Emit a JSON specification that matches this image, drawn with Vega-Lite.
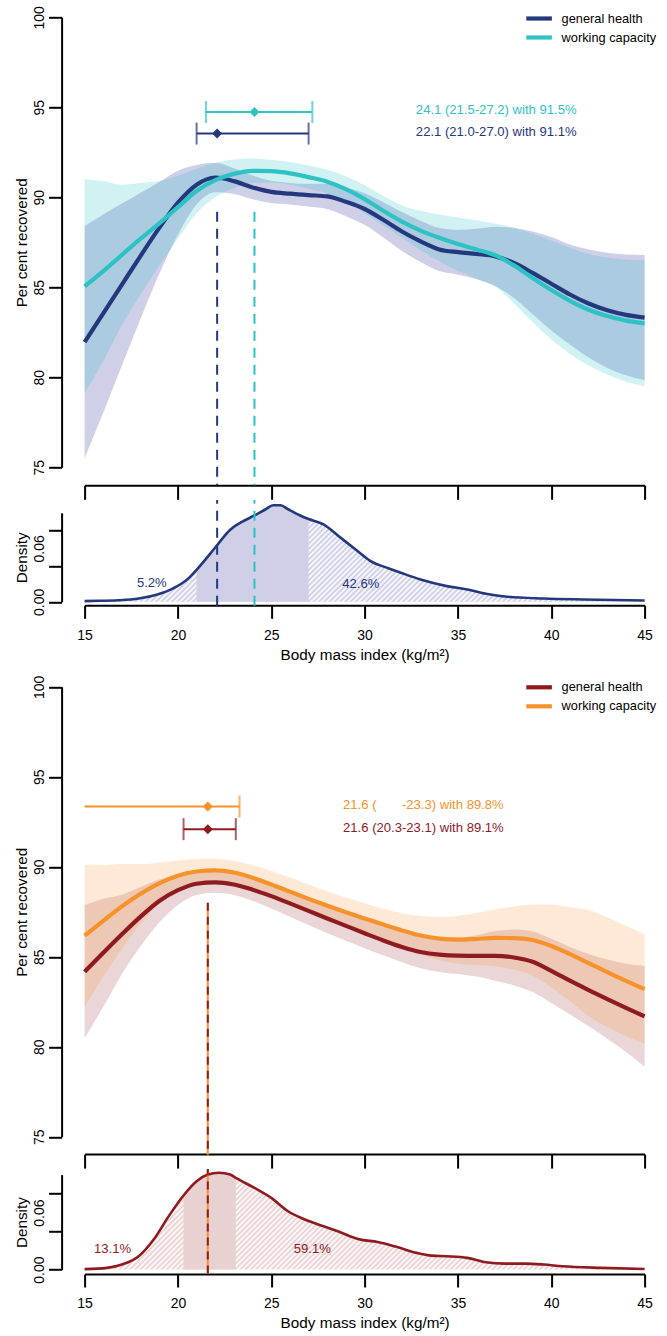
{
"$schema": "https://vega.github.io/schema/vega-lite/v6.json",
"padding": {"left": 14.6, "top": 5.3, "right": 0, "bottom": 0},
"bounds": "flush",
"spacing": 0,
"config": {
  "font": "Liberation Sans",
  "view": {"stroke": null},
  "axis": {"grid": false, "domainColor": "#000", "tickColor": "#000", "domainWidth": 2, "tickWidth": 2, "labelColor": "#000", "titleColor": "#000", "labelFontSize": 14, "titleFontSize": 15.3, "titleFontWeight": "normal", "labelFlush": false, "labelOverlap": false, "domainCap": "butt", "tickCap": "butt", "labelFont": "Liberation Sans", "titleFont": "Liberation Sans"},
  "text": {"font": "Liberation Sans"}
},
"resolve": {"scale": {"color": "independent", "stroke": "independent", "x": "independent", "y": "independent"}, "legend": {"color": "independent", "stroke": "independent"}},
"datasets": {
  "curves_top": [
    {"bmi":15,"series":"general health","est":81.95,"lo":75.50,"hi":88.40},
    {"bmi":16,"series":"general health","est":83.55,"lo":78.05,"hi":89.05},
    {"bmi":17,"series":"general health","est":85.15,"lo":80.65,"hi":89.65},
    {"bmi":18,"series":"general health","est":86.75,"lo":83.25,"hi":90.25},
    {"bmi":19,"series":"general health","est":88.30,"lo":85.75,"hi":90.85},
    {"bmi":20,"series":"general health","est":89.70,"lo":87.92,"hi":91.48},
    {"bmi":21,"series":"general health","est":90.70,"lo":89.60,"hi":91.80},
    {"bmi":22,"series":"general health","est":91.10,"lo":90.28,"hi":91.92},
    {"bmi":23,"series":"general health","est":90.90,"lo":90.18,"hi":91.62},
    {"bmi":24,"series":"general health","est":90.55,"lo":89.89,"hi":91.21},
    {"bmi":25,"series":"general health","est":90.30,"lo":89.68,"hi":90.92},
    {"bmi":26,"series":"general health","est":90.20,"lo":89.60,"hi":90.80},
    {"bmi":27,"series":"general health","est":90.12,"lo":89.49,"hi":90.75},
    {"bmi":28,"series":"general health","est":90.05,"lo":89.35,"hi":90.75},
    {"bmi":29,"series":"general health","est":89.75,"lo":88.95,"hi":90.55},
    {"bmi":30,"series":"general health","est":89.35,"lo":88.47,"hi":90.23},
    {"bmi":31,"series":"general health","est":88.75,"lo":87.77,"hi":89.73},
    {"bmi":32,"series":"general health","est":88.10,"lo":87.02,"hi":89.18},
    {"bmi":33,"series":"general health","est":87.55,"lo":86.40,"hi":88.70},
    {"bmi":34,"series":"general health","est":87.10,"lo":85.90,"hi":88.30},
    {"bmi":35,"series":"general health","est":86.95,"lo":85.70,"hi":88.20},
    {"bmi":36,"series":"general health","est":86.85,"lo":85.45,"hi":88.25},
    {"bmi":37,"series":"general health","est":86.72,"lo":85.07,"hi":88.37},
    {"bmi":38,"series":"general health","est":86.35,"lo":84.40,"hi":88.30},
    {"bmi":39,"series":"general health","est":85.80,"lo":83.50,"hi":88.10},
    {"bmi":40,"series":"general health","est":85.20,"lo":82.60,"hi":87.80},
    {"bmi":41,"series":"general health","est":84.60,"lo":81.82,"hi":87.38},
    {"bmi":42,"series":"general health","est":84.10,"lo":81.10,"hi":87.10},
    {"bmi":43,"series":"general health","est":83.72,"lo":80.52,"hi":86.92},
    {"bmi":44,"series":"general health","est":83.47,"lo":80.12,"hi":86.82},
    {"bmi":45,"series":"general health","est":83.32,"lo":79.84,"hi":86.80},
    {"bmi":15,"series":"working capacity","est":85.05,"lo":79.10,"hi":91.00},
    {"bmi":16,"series":"working capacity","est":85.90,"lo":80.90,"hi":90.90},
    {"bmi":17,"series":"working capacity","est":86.80,"lo":82.90,"hi":90.70},
    {"bmi":18,"series":"working capacity","est":87.70,"lo":84.60,"hi":90.80},
    {"bmi":19,"series":"working capacity","est":88.55,"lo":86.20,"hi":90.90},
    {"bmi":20,"series":"working capacity","est":89.45,"lo":87.70,"hi":91.20},
    {"bmi":21,"series":"working capacity","est":90.35,"lo":89.11,"hi":91.59},
    {"bmi":22,"series":"working capacity","est":90.95,"lo":90.00,"hi":91.90},
    {"bmi":23,"series":"working capacity","est":91.30,"lo":90.50,"hi":92.10},
    {"bmi":24,"series":"working capacity","est":91.47,"lo":90.79,"hi":92.15},
    {"bmi":25,"series":"working capacity","est":91.45,"lo":90.82,"hi":92.08},
    {"bmi":26,"series":"working capacity","est":91.33,"lo":90.70,"hi":91.96},
    {"bmi":27,"series":"working capacity","est":91.12,"lo":90.48,"hi":91.76},
    {"bmi":28,"series":"working capacity","est":90.87,"lo":90.21,"hi":91.53},
    {"bmi":29,"series":"working capacity","est":90.45,"lo":89.73,"hi":91.17},
    {"bmi":30,"series":"working capacity","est":89.90,"lo":89.12,"hi":90.68},
    {"bmi":31,"series":"working capacity","est":89.25,"lo":88.43,"hi":90.07},
    {"bmi":32,"series":"working capacity","est":88.65,"lo":87.75,"hi":89.55},
    {"bmi":33,"series":"working capacity","est":88.15,"lo":87.05,"hi":89.25},
    {"bmi":34,"series":"working capacity","est":87.75,"lo":86.45,"hi":89.05},
    {"bmi":35,"series":"working capacity","est":87.40,"lo":85.92,"hi":88.88},
    {"bmi":36,"series":"working capacity","est":87.10,"lo":85.48,"hi":88.72},
    {"bmi":37,"series":"working capacity","est":86.78,"lo":85.03,"hi":88.53},
    {"bmi":38,"series":"working capacity","est":86.22,"lo":84.12,"hi":88.32},
    {"bmi":39,"series":"working capacity","est":85.52,"lo":83.07,"hi":87.97},
    {"bmi":40,"series":"working capacity","est":84.85,"lo":82.10,"hi":87.60},
    {"bmi":41,"series":"working capacity","est":84.25,"lo":81.30,"hi":87.20},
    {"bmi":42,"series":"working capacity","est":83.75,"lo":80.65,"hi":86.85},
    {"bmi":43,"series":"working capacity","est":83.40,"lo":80.15,"hi":86.65},
    {"bmi":44,"series":"working capacity","est":83.15,"lo":79.75,"hi":86.55},
    {"bmi":45,"series":"working capacity","est":83.00,"lo":79.50,"hi":86.50}
  ],
  "curves_bottom": [
    {"bmi":15,"series":"general health","est":84.17,"lo":80.47,"hi":87.87},
    {"bmi":16,"series":"general health","est":85.22,"lo":82.22,"hi":88.22},
    {"bmi":17,"series":"general health","est":86.25,"lo":84.05,"hi":88.45},
    {"bmi":18,"series":"general health","est":87.23,"lo":85.58,"hi":88.88},
    {"bmi":19,"series":"general health","est":88.10,"lo":86.90,"hi":89.30},
    {"bmi":20,"series":"general health","est":88.70,"lo":87.88,"hi":89.52},
    {"bmi":21,"series":"general health","est":89.06,"lo":88.43,"hi":89.69},
    {"bmi":22,"series":"general health","est":89.14,"lo":88.56,"hi":89.72},
    {"bmi":23,"series":"general health","est":89.02,"lo":88.44,"hi":89.60},
    {"bmi":24,"series":"general health","est":88.73,"lo":88.11,"hi":89.35},
    {"bmi":25,"series":"general health","est":88.37,"lo":87.69,"hi":89.05},
    {"bmi":26,"series":"general health","est":87.97,"lo":87.23,"hi":88.71},
    {"bmi":27,"series":"general health","est":87.55,"lo":86.77,"hi":88.33},
    {"bmi":28,"series":"general health","est":87.13,"lo":86.31,"hi":87.95},
    {"bmi":29,"series":"general health","est":86.72,"lo":85.89,"hi":87.55},
    {"bmi":30,"series":"general health","est":86.31,"lo":85.48,"hi":87.14},
    {"bmi":31,"series":"general health","est":85.91,"lo":85.08,"hi":86.74},
    {"bmi":32,"series":"general health","est":85.55,"lo":84.70,"hi":86.40},
    {"bmi":33,"series":"general health","est":85.27,"lo":84.37,"hi":86.17},
    {"bmi":34,"series":"general health","est":85.12,"lo":84.16,"hi":86.08},
    {"bmi":35,"series":"general health","est":85.06,"lo":84.04,"hi":86.08},
    {"bmi":36,"series":"general health","est":85.05,"lo":83.90,"hi":86.20},
    {"bmi":37,"series":"general health","est":85.05,"lo":83.67,"hi":86.43},
    {"bmi":38,"series":"general health","est":84.96,"lo":83.41,"hi":86.51},
    {"bmi":39,"series":"general health","est":84.72,"lo":83.04,"hi":86.40},
    {"bmi":40,"series":"general health","est":84.22,"lo":82.44,"hi":86.00},
    {"bmi":41,"series":"general health","est":83.67,"lo":81.79,"hi":85.55},
    {"bmi":42,"series":"general health","est":83.15,"lo":81.15,"hi":85.15},
    {"bmi":43,"series":"general health","est":82.65,"lo":80.45,"hi":84.85},
    {"bmi":44,"series":"general health","est":82.16,"lo":79.71,"hi":84.61},
    {"bmi":45,"series":"general health","est":81.69,"lo":78.89,"hi":84.49},
    {"bmi":15,"series":"working capacity","est":86.17,"lo":82.21,"hi":90.13},
    {"bmi":16,"series":"working capacity","est":87.00,"lo":83.90,"hi":90.10},
    {"bmi":17,"series":"working capacity","est":87.80,"lo":85.45,"hi":90.15},
    {"bmi":18,"series":"working capacity","est":88.50,"lo":86.85,"hi":90.15},
    {"bmi":19,"series":"working capacity","est":89.08,"lo":87.93,"hi":90.23},
    {"bmi":20,"series":"working capacity","est":89.50,"lo":88.65,"hi":90.35},
    {"bmi":21,"series":"working capacity","est":89.74,"lo":89.04,"hi":90.44},
    {"bmi":22,"series":"working capacity","est":89.80,"lo":89.15,"hi":90.45},
    {"bmi":23,"series":"working capacity","est":89.68,"lo":89.04,"hi":90.32},
    {"bmi":24,"series":"working capacity","est":89.39,"lo":88.69,"hi":90.09},
    {"bmi":25,"series":"working capacity","est":89.02,"lo":88.27,"hi":89.77},
    {"bmi":26,"series":"working capacity","est":88.62,"lo":87.84,"hi":89.40},
    {"bmi":27,"series":"working capacity","est":88.22,"lo":87.42,"hi":89.02},
    {"bmi":28,"series":"working capacity","est":87.84,"lo":87.04,"hi":88.64},
    {"bmi":29,"series":"working capacity","est":87.47,"lo":86.65,"hi":88.29},
    {"bmi":30,"series":"working capacity","est":87.13,"lo":86.28,"hi":87.98},
    {"bmi":31,"series":"working capacity","est":86.79,"lo":85.91,"hi":87.67},
    {"bmi":32,"series":"working capacity","est":86.46,"lo":85.51,"hi":87.41},
    {"bmi":33,"series":"working capacity","est":86.18,"lo":85.10,"hi":87.26},
    {"bmi":34,"series":"working capacity","est":86.01,"lo":84.81,"hi":87.21},
    {"bmi":35,"series":"working capacity","est":85.95,"lo":84.62,"hi":87.28},
    {"bmi":36,"series":"working capacity","est":85.99,"lo":84.54,"hi":87.44},
    {"bmi":37,"series":"working capacity","est":86.05,"lo":84.47,"hi":87.63},
    {"bmi":38,"series":"working capacity","est":86.04,"lo":84.29,"hi":87.79},
    {"bmi":39,"series":"working capacity","est":85.93,"lo":83.96,"hi":87.90},
    {"bmi":40,"series":"working capacity","est":85.60,"lo":83.30,"hi":87.90},
    {"bmi":41,"series":"working capacity","est":85.15,"lo":82.55,"hi":87.75},
    {"bmi":42,"series":"working capacity","est":84.65,"lo":81.70,"hi":87.60},
    {"bmi":43,"series":"working capacity","est":84.15,"lo":81.10,"hi":87.20},
    {"bmi":44,"series":"working capacity","est":83.66,"lo":80.60,"hi":86.72},
    {"bmi":45,"series":"working capacity","est":83.20,"lo":80.15,"hi":86.25}
  ],
  "ci_top": [
    {"series":"general health","est":22.1,"lo":21.0,"hi":27.0,"cap_lo":21.0,"ypos":93.54,"label":"22.1 (21.0-27.0) with 91.1%"},
    {"series":"working capacity","est":24.1,"lo":21.5,"hi":27.2,"cap_lo":21.5,"ypos":94.74,"label":"24.1 (21.5-27.2) with 91.5%"}
  ],
  "ci_bottom": [
    {"series":"general health","est":21.6,"lo":20.3,"hi":23.1,"cap_lo":20.3,"ypos":92.09,"label":"21.6 (20.3-23.1) with 89.1%"},
    {"series":"working capacity","est":21.6,"lo":15.0,"hi":23.3,"cap_lo":null,"ypos":93.35,"label":"21.6 (\u00a0\u00a0\u00a0\u00a0\u00a0\u00a0\u00a0-23.3) with 89.8%"}
  ],
  "dens_top": [
    {"bmi":15,"d":0.0008},{"bmi":15.8,"d":0.0011},{"bmi":16.8,"d":0.0017},{"bmi":17.9,"d":0.0037},{"bmi":18.9,"d":0.0083},{"bmi":19.7,"d":0.0146},{"bmi":20.55,"d":0.026},{"bmi":21,"d":0.036},{"bmi":22,"d":0.061},{"bmi":22.8,"d":0.081},{"bmi":23.45,"d":0.09},{"bmi":24.1,"d":0.097},{"bmi":24.7,"d":0.104},{"bmi":25.1,"d":0.1085},{"bmi":25.5,"d":0.1085},{"bmi":25.9,"d":0.104},{"bmi":26.55,"d":0.097},{"bmi":27,"d":0.093},{"bmi":27.8,"d":0.087},{"bmi":28.6,"d":0.074},{"bmi":29.5,"d":0.059},{"bmi":30.3,"d":0.046},{"bmi":31.3,"d":0.0375},{"bmi":31.9,"d":0.033},{"bmi":33,"d":0.025},{"bmi":34.4,"d":0.0176},{"bmi":35.5,"d":0.0139},{"bmi":36.5,"d":0.009},{"bmi":37.5,"d":0.006},{"bmi":39.6,"d":0.0037},{"bmi":41.7,"d":0.0026},{"bmi":45,"d":0.0015}
  ],
  "dens_bottom": [
    {"bmi":15,"d":0.0005},{"bmi":16.2,"d":0.0018},{"bmi":17,"d":0.0053},{"bmi":17.9,"d":0.014},{"bmi":18.7,"d":0.0316},{"bmi":19.5,"d":0.056},{"bmi":20.3,"d":0.078},{"bmi":21,"d":0.093},{"bmi":21.6,"d":0.1},{"bmi":22.2,"d":0.102},{"bmi":22.8,"d":0.1},{"bmi":23.1,"d":0.0965},{"bmi":24.1,"d":0.086},{"bmi":25,"d":0.0755},{"bmi":25.9,"d":0.0614},{"bmi":26.8,"d":0.0527},{"bmi":27.8,"d":0.0456},{"bmi":28.6,"d":0.04},{"bmi":29.7,"d":0.032},{"bmi":30.7,"d":0.029},{"bmi":31.7,"d":0.024},{"bmi":32.8,"d":0.0176},{"bmi":33.6,"d":0.0147},{"bmi":34.4,"d":0.014},{"bmi":35.5,"d":0.0123},{"bmi":36.5,"d":0.0077},{"bmi":37.5,"d":0.0063},{"bmi":38.6,"d":0.0063},{"bmi":39.6,"d":0.0053},{"bmi":40.6,"d":0.0035},{"bmi":42.7,"d":0.0018},{"bmi":45,"d":0.0007}
  ],
  "pct_top": [{"bmi":18.6,"d":0.0206,"label":"5.2%"},{"bmi":29.8,"d":0.020,"label":"42.6%"}],
  "pct_bottom": [{"bmi":16.5,"d":0.0217,"label":"13.1%"},{"bmi":27.2,"d":0.0217,"label":"59.1%"}]
},
"vconcat": [
  {
    "width": 560, "height": 450,
    "layer": [
      {"data": {"name": "curves_top"}, "transform": [{"filter": "datum.series == 'general health'"}],
       "mark": {"type": "area", "color": "#6a6ab8", "opacity": 0.32, "interpolate": "monotone"},
       "encoding": {
         "x": {"field": "bmi", "type": "quantitative", "title": null, "scale": {"domain": [15,45], "nice": false, "zero": false}, "axis": {"values": [15,20,25,30,35,40,45], "labels": false, "offset": 18, "tickSize": 14}},
         "y": {"field": "lo", "type": "quantitative", "title": "Per cent recovered", "scale": {"domain": [75,100], "nice": false, "zero": false}, "axis": {"values": [75,80,85,90,95,100], "offset": 23, "tickSize": 13, "labelAngle": 270, "labelAlign": "center", "labelBaseline": "bottom", "labelPadding": 2, "titlePadding": 3, "labelOverlap": false}},
         "y2": {"field": "hi"}}},
      {"data": {"name": "curves_top"}, "transform": [{"filter": "datum.series == 'working capacity'"}],
       "mark": {"type": "area", "color": "#2ec2c4", "opacity": 0.22, "interpolate": "monotone"},
       "encoding": {
         "x": {"field": "bmi", "type": "quantitative", "title": null},
         "y": {"field": "lo", "type": "quantitative", "title": "Per cent recovered"},
         "y2": {"field": "hi"}}},
      {"data": {"name": "curves_top"},
       "mark": {"type": "line", "strokeWidth": 4.2, "interpolate": "monotone"},
       "encoding": {
         "x": {"field": "bmi", "type": "quantitative", "title": null},
         "y": {"field": "est", "type": "quantitative", "title": "Per cent recovered"},
         "stroke": {"field": "series", "type": "nominal", "scale": {"domain": ["general health","working capacity"], "range": ["#25387e","#2ec2c4"]},
           "legend": {"orient": "none", "legendX": 444, "legendY": -9.3, "title": null, "symbolType": "M-1.6,0L1.6,0", "symbolSize": 256, "symbolStrokeWidth": 4.2, "labelFontSize": 12.8, "labelOffset": 12, "rowPadding": 0, "padding": 0, "labelColor": "#000", "labelFont": "Liberation Sans", "labelLimit": 300}}}},
      {"data": {"name": "ci_top"},
       "mark": {"type": "rule", "strokeWidth": 2, "strokeDash": [10,7]},
       "encoding": {
         "x": {"field": "est", "type": "quantitative", "title": null},
         "y": {"datum": 89.2, "type": "quantitative", "title": "Per cent recovered"},
         "y2": {"datum": 74},
         "color": {"field": "series", "type": "nominal", "scale": {"domain": ["general health","working capacity"], "range": ["#25387e","#2ec2c4"]}, "legend": null}}},
      {"data": {"name": "ci_top"},
       "mark": {"type": "rule", "strokeWidth": 2},
       "encoding": {
         "x": {"field": "lo", "type": "quantitative", "title": null},
         "x2": {"field": "hi"},
         "y": {"field": "ypos", "type": "quantitative", "title": "Per cent recovered"},
         "color": {"field": "series", "type": "nominal", "legend": null}}},
      {"data": {"name": "ci_top"},
       "mark": {"type": "tick", "orient": "vertical", "size": 22, "thickness": 2},
       "encoding": {
         "x": {"field": "cap_lo", "type": "quantitative", "title": null},
         "y": {"field": "ypos", "type": "quantitative", "title": "Per cent recovered"},
         "color": {"field": "series", "type": "nominal", "legend": null}}},
      {"data": {"name": "ci_top"},
       "mark": {"type": "tick", "orient": "vertical", "size": 22, "thickness": 2},
       "encoding": {
         "x": {"field": "hi", "type": "quantitative", "title": null},
         "y": {"field": "ypos", "type": "quantitative", "title": "Per cent recovered"},
         "color": {"field": "series", "type": "nominal", "legend": null}}},
      {"data": {"name": "ci_top"},
       "mark": {"type": "point", "shape": "diamond", "filled": true, "size": 100, "opacity": 1},
       "encoding": {
         "x": {"field": "est", "type": "quantitative", "title": null},
         "y": {"field": "ypos", "type": "quantitative", "title": "Per cent recovered"},
         "color": {"field": "series", "type": "nominal", "legend": null}}},
      {"data": {"name": "ci_top"},
       "mark": {"type": "text", "fontSize": 13.1, "align": "center", "baseline": "middle", "dy": -1.5},
       "encoding": {
         "x": {"datum": 37.05, "type": "quantitative", "title": null},
         "y": {"field": "ypos", "type": "quantitative", "title": "Per cent recovered"},
         "text": {"field": "label"},
         "color": {"field": "series", "type": "nominal", "legend": null}}}
    ]
  },
  {
    "width": 560, "height": 134.5,
    "resolve": {"scale": {"y": "independent"}, "axis": {"y": "independent"}},
    "layer": [
      {"layer": [
      {"data": {"name": "dens_top"},
       "mark": {"type": "area", "interpolate": "monotone", "opacity": 1, "fill": {"gradient": "linear", "x1": 0, "y1": 0, "x2": 1.1386, "y2": 0.1964, "stops": [
{"offset":0,"color":"#c9c9e5"},{"offset":0.004,"color":"#fff"},{"offset":0.008,"color":"#c9c9e5"},{"offset":0.012,"color":"#fff"},{"offset":0.016,"color":"#c9c9e5"},{"offset":0.02,"color":"#fff"},{"offset":0.024,"color":"#c9c9e5"},{"offset":0.028,"color":"#fff"},{"offset":0.032,"color":"#c9c9e5"},{"offset":0.036,"color":"#fff"},
{"offset":0.04,"color":"#c9c9e5"},{"offset":0.044,"color":"#fff"},{"offset":0.048,"color":"#c9c9e5"},{"offset":0.052,"color":"#fff"},{"offset":0.056,"color":"#c9c9e5"},{"offset":0.06,"color":"#fff"},{"offset":0.064,"color":"#c9c9e5"},{"offset":0.068,"color":"#fff"},{"offset":0.072,"color":"#c9c9e5"},{"offset":0.076,"color":"#fff"},
{"offset":0.08,"color":"#c9c9e5"},{"offset":0.084,"color":"#fff"},{"offset":0.088,"color":"#c9c9e5"},{"offset":0.092,"color":"#fff"},{"offset":0.096,"color":"#c9c9e5"},{"offset":0.1,"color":"#fff"},{"offset":0.104,"color":"#c9c9e5"},{"offset":0.108,"color":"#fff"},{"offset":0.112,"color":"#c9c9e5"},{"offset":0.116,"color":"#fff"},
{"offset":0.12,"color":"#c9c9e5"},{"offset":0.124,"color":"#fff"},{"offset":0.128,"color":"#c9c9e5"},{"offset":0.132,"color":"#fff"},{"offset":0.136,"color":"#c9c9e5"},{"offset":0.14,"color":"#fff"},{"offset":0.144,"color":"#c9c9e5"},{"offset":0.148,"color":"#fff"},{"offset":0.152,"color":"#c9c9e5"},{"offset":0.156,"color":"#fff"},
{"offset":0.16,"color":"#c9c9e5"},{"offset":0.164,"color":"#fff"},{"offset":0.168,"color":"#c9c9e5"},{"offset":0.172,"color":"#fff"},{"offset":0.176,"color":"#c9c9e5"},{"offset":0.18,"color":"#fff"},{"offset":0.184,"color":"#c9c9e5"},{"offset":0.188,"color":"#fff"},{"offset":0.192,"color":"#c9c9e5"},{"offset":0.196,"color":"#fff"},
{"offset":0.2,"color":"#c9c9e5"},{"offset":0.204,"color":"#fff"},{"offset":0.208,"color":"#c9c9e5"},{"offset":0.212,"color":"#fff"},{"offset":0.216,"color":"#c9c9e5"},{"offset":0.22,"color":"#fff"},{"offset":0.224,"color":"#c9c9e5"},{"offset":0.228,"color":"#fff"},{"offset":0.232,"color":"#c9c9e5"},{"offset":0.236,"color":"#fff"},
{"offset":0.24,"color":"#c9c9e5"},{"offset":0.244,"color":"#fff"},{"offset":0.248,"color":"#c9c9e5"},{"offset":0.252,"color":"#fff"},{"offset":0.256,"color":"#c9c9e5"},{"offset":0.26,"color":"#fff"},{"offset":0.264,"color":"#c9c9e5"},{"offset":0.268,"color":"#fff"},{"offset":0.272,"color":"#c9c9e5"},{"offset":0.276,"color":"#fff"},
{"offset":0.28,"color":"#c9c9e5"},{"offset":0.284,"color":"#fff"},{"offset":0.288,"color":"#c9c9e5"},{"offset":0.292,"color":"#fff"},{"offset":0.296,"color":"#c9c9e5"},{"offset":0.3,"color":"#fff"},{"offset":0.304,"color":"#c9c9e5"},{"offset":0.308,"color":"#fff"},{"offset":0.312,"color":"#c9c9e5"},{"offset":0.316,"color":"#fff"},
{"offset":0.32,"color":"#c9c9e5"},{"offset":0.324,"color":"#fff"},{"offset":0.328,"color":"#c9c9e5"},{"offset":0.332,"color":"#fff"},{"offset":0.336,"color":"#c9c9e5"},{"offset":0.34,"color":"#fff"},{"offset":0.344,"color":"#c9c9e5"},{"offset":0.348,"color":"#fff"},{"offset":0.352,"color":"#c9c9e5"},{"offset":0.356,"color":"#fff"},
{"offset":0.36,"color":"#c9c9e5"},{"offset":0.364,"color":"#fff"},{"offset":0.368,"color":"#c9c9e5"},{"offset":0.372,"color":"#fff"},{"offset":0.376,"color":"#c9c9e5"},{"offset":0.38,"color":"#fff"},{"offset":0.384,"color":"#c9c9e5"},{"offset":0.388,"color":"#fff"},{"offset":0.392,"color":"#c9c9e5"},{"offset":0.396,"color":"#fff"},
{"offset":0.4,"color":"#c9c9e5"},{"offset":0.404,"color":"#fff"},{"offset":0.408,"color":"#c9c9e5"},{"offset":0.412,"color":"#fff"},{"offset":0.416,"color":"#c9c9e5"},{"offset":0.42,"color":"#fff"},{"offset":0.424,"color":"#c9c9e5"},{"offset":0.428,"color":"#fff"},{"offset":0.432,"color":"#c9c9e5"},{"offset":0.436,"color":"#fff"},
{"offset":0.44,"color":"#c9c9e5"},{"offset":0.444,"color":"#fff"},{"offset":0.448,"color":"#c9c9e5"},{"offset":0.452,"color":"#fff"},{"offset":0.456,"color":"#c9c9e5"},{"offset":0.46,"color":"#fff"},{"offset":0.464,"color":"#c9c9e5"},{"offset":0.468,"color":"#fff"},{"offset":0.472,"color":"#c9c9e5"},{"offset":0.476,"color":"#fff"},
{"offset":0.48,"color":"#c9c9e5"},{"offset":0.484,"color":"#fff"},{"offset":0.488,"color":"#c9c9e5"},{"offset":0.492,"color":"#fff"},{"offset":0.496,"color":"#c9c9e5"},{"offset":0.5,"color":"#fff"},{"offset":0.504,"color":"#c9c9e5"},{"offset":0.508,"color":"#fff"},{"offset":0.512,"color":"#c9c9e5"},{"offset":0.516,"color":"#fff"},
{"offset":0.52,"color":"#c9c9e5"},{"offset":0.524,"color":"#fff"},{"offset":0.528,"color":"#c9c9e5"},{"offset":0.532,"color":"#fff"},{"offset":0.536,"color":"#c9c9e5"},{"offset":0.54,"color":"#fff"},{"offset":0.544,"color":"#c9c9e5"},{"offset":0.548,"color":"#fff"},{"offset":0.552,"color":"#c9c9e5"},{"offset":0.556,"color":"#fff"},
{"offset":0.56,"color":"#c9c9e5"},{"offset":0.564,"color":"#fff"},{"offset":0.568,"color":"#c9c9e5"},{"offset":0.572,"color":"#fff"},{"offset":0.576,"color":"#c9c9e5"},{"offset":0.58,"color":"#fff"},{"offset":0.584,"color":"#c9c9e5"},{"offset":0.588,"color":"#fff"},{"offset":0.592,"color":"#c9c9e5"},{"offset":0.596,"color":"#fff"},
{"offset":0.6,"color":"#c9c9e5"},{"offset":0.604,"color":"#fff"},{"offset":0.608,"color":"#c9c9e5"},{"offset":0.612,"color":"#fff"},{"offset":0.616,"color":"#c9c9e5"},{"offset":0.62,"color":"#fff"},{"offset":0.624,"color":"#c9c9e5"},{"offset":0.628,"color":"#fff"},{"offset":0.632,"color":"#c9c9e5"},{"offset":0.636,"color":"#fff"},
{"offset":0.64,"color":"#c9c9e5"},{"offset":0.644,"color":"#fff"},{"offset":0.648,"color":"#c9c9e5"},{"offset":0.652,"color":"#fff"},{"offset":0.656,"color":"#c9c9e5"},{"offset":0.66,"color":"#fff"},{"offset":0.664,"color":"#c9c9e5"},{"offset":0.668,"color":"#fff"},{"offset":0.672,"color":"#c9c9e5"},{"offset":0.676,"color":"#fff"},
{"offset":0.68,"color":"#c9c9e5"},{"offset":0.684,"color":"#fff"},{"offset":0.688,"color":"#c9c9e5"},{"offset":0.692,"color":"#fff"},{"offset":0.696,"color":"#c9c9e5"},{"offset":0.7,"color":"#fff"},{"offset":0.704,"color":"#c9c9e5"},{"offset":0.708,"color":"#fff"},{"offset":0.712,"color":"#c9c9e5"},{"offset":0.716,"color":"#fff"},
{"offset":0.72,"color":"#c9c9e5"},{"offset":0.724,"color":"#fff"},{"offset":0.728,"color":"#c9c9e5"},{"offset":0.732,"color":"#fff"},{"offset":0.736,"color":"#c9c9e5"},{"offset":0.74,"color":"#fff"},{"offset":0.744,"color":"#c9c9e5"},{"offset":0.748,"color":"#fff"},{"offset":0.752,"color":"#c9c9e5"},{"offset":0.756,"color":"#fff"},
{"offset":0.76,"color":"#c9c9e5"},{"offset":0.764,"color":"#fff"},{"offset":0.768,"color":"#c9c9e5"},{"offset":0.772,"color":"#fff"},{"offset":0.776,"color":"#c9c9e5"},{"offset":0.78,"color":"#fff"},{"offset":0.784,"color":"#c9c9e5"},{"offset":0.788,"color":"#fff"},{"offset":0.792,"color":"#c9c9e5"},{"offset":0.796,"color":"#fff"},
{"offset":0.8,"color":"#c9c9e5"},{"offset":0.804,"color":"#fff"},{"offset":0.808,"color":"#c9c9e5"},{"offset":0.812,"color":"#fff"},{"offset":0.816,"color":"#c9c9e5"},{"offset":0.82,"color":"#fff"},{"offset":0.824,"color":"#c9c9e5"},{"offset":0.828,"color":"#fff"},{"offset":0.832,"color":"#c9c9e5"},{"offset":0.836,"color":"#fff"},
{"offset":0.84,"color":"#c9c9e5"},{"offset":0.844,"color":"#fff"},{"offset":0.848,"color":"#c9c9e5"},{"offset":0.852,"color":"#fff"},{"offset":0.856,"color":"#c9c9e5"},{"offset":0.86,"color":"#fff"},{"offset":0.864,"color":"#c9c9e5"},{"offset":0.868,"color":"#fff"},{"offset":0.872,"color":"#c9c9e5"},{"offset":0.876,"color":"#fff"},
{"offset":0.88,"color":"#c9c9e5"},{"offset":0.884,"color":"#fff"},{"offset":0.888,"color":"#c9c9e5"},{"offset":0.892,"color":"#fff"},{"offset":0.896,"color":"#c9c9e5"},{"offset":0.9,"color":"#fff"},{"offset":0.904,"color":"#c9c9e5"},{"offset":0.908,"color":"#fff"},{"offset":0.912,"color":"#c9c9e5"},{"offset":0.916,"color":"#fff"},
{"offset":0.92,"color":"#c9c9e5"},{"offset":0.924,"color":"#fff"},{"offset":0.928,"color":"#c9c9e5"},{"offset":0.932,"color":"#fff"},{"offset":0.936,"color":"#c9c9e5"},{"offset":0.94,"color":"#fff"},{"offset":0.944,"color":"#c9c9e5"},{"offset":0.948,"color":"#fff"},{"offset":0.952,"color":"#c9c9e5"},{"offset":0.956,"color":"#fff"},
{"offset":0.96,"color":"#c9c9e5"},{"offset":0.964,"color":"#fff"},{"offset":0.968,"color":"#c9c9e5"},{"offset":0.972,"color":"#fff"},{"offset":0.976,"color":"#c9c9e5"},{"offset":0.98,"color":"#fff"},{"offset":0.984,"color":"#c9c9e5"},{"offset":0.988,"color":"#fff"},{"offset":0.992,"color":"#c9c9e5"},{"offset":0.996,"color":"#fff"},{"offset":1,"color":"#c9c9e5"}
       ]}},
       "encoding": {
         "x": {"field": "bmi", "type": "quantitative", "title": "Body mass index (kg/m²)", "scale": {"domain": [15,45], "nice": false, "zero": false}, "axis": {"values": [15,20,25,30,35,40,45], "offset": 3.5, "tickSize": 13, "labelPadding": 10, "titlePadding": 5, "labelOverlap": false}},
         "y": {"field": "d", "type": "quantitative", "title": null, "scale": {"domain": [0,0.1], "nice": false, "zero": false, "range": [134.5, 45.5]}, "axis": {"values": [0,0.02,0.04,0.06,0.08,0.1], "labels": false, "offset": 23, "tickSize": 13}}}},
      {"data": {"name": "dens_top"}, "transform": [{"filter": {"field": "bmi", "range": [21, 27]}}],
       "mark": {"type": "area", "color": "#cfcfe8", "opacity": 1, "interpolate": "monotone"},
       "encoding": {
         "x": {"field": "bmi", "type": "quantitative", "title": "Body mass index (kg/m²)"},
         "y": {"field": "d", "type": "quantitative", "title": null}}},
      {"mark": {"type": "rule", "color": "#e3e3e3", "strokeWidth": 1},
       "encoding": {
         "x": {"datum": 13.8, "type": "quantitative", "title": "Body mass index (kg/m²)"},
         "x2": {"datum": 46.2},
         "y": {"datum": 0, "type": "quantitative", "title": null}}},
      {"data": {"name": "dens_top"},
       "mark": {"type": "line", "color": "#25387e", "strokeWidth": 2.6, "interpolate": "monotone"},
       "encoding": {
         "x": {"field": "bmi", "type": "quantitative", "title": "Body mass index (kg/m²)"},
         "y": {"field": "d", "type": "quantitative", "title": null}}},
      {"data": {"name": "ci_top"},
       "mark": {"type": "rule", "strokeWidth": 2, "strokeDash": [10,7]},
       "encoding": {
         "x": {"field": "est", "type": "quantitative", "title": "Body mass index (kg/m²)"},
         "y": {"datum": -0.0044, "type": "quantitative", "title": null},
         "y2": {"datum": 0.1144},
         "color": {"field": "series", "type": "nominal", "scale": {"domain": ["general health","working capacity"], "range": ["#25387e","#2ec2c4"]}, "legend": null}}},
      {"data": {"name": "pct_top"},
       "mark": {"type": "text", "fontSize": 13.1, "align": "center", "baseline": "middle", "color": "#25387e"},
       "encoding": {
         "x": {"field": "bmi", "type": "quantitative", "title": "Body mass index (kg/m²)"},
         "y": {"field": "d", "type": "quantitative", "title": null},
         "text": {"field": "label"}}}
      ]},
      {"data": {"name": "pct_top"},
       "mark": {"type": "point", "opacity": 0},
       "encoding": {
         "x": {"field": "bmi", "type": "quantitative", "title": "Body mass index (kg/m²)"},
         "y": {"field": "d", "type": "quantitative", "title": "Density", "scale": {"domain": [0,0.1], "nice": false, "zero": false, "range": [134.5, 45.5]}, "axis": {"orient": "left", "values": [0, 0.06], "format": ".2f", "domain": false, "tickOpacity": 0, "offset": 23, "tickSize": 13, "labelAngle": 270, "labelAlign": "center", "labelBaseline": "bottom", "labelPadding": 2, "titlePadding": 3, "labelOverlap": false}}}}
    ]
  },
  {
    "width": 560, "height": 534.5,
    "layer": [
      {"data": {"name": "curves_bottom"}, "transform": [{"filter": "datum.series == 'general health'"}],
       "mark": {"type": "area", "color": "#8f1a1f", "opacity": 0.18, "interpolate": "monotone"},
       "encoding": {
         "x": {"field": "bmi", "type": "quantitative", "title": null, "scale": {"domain": [15,45], "nice": false, "zero": false}, "axis": {"values": [15,20,25,30,35,40,45], "labels": false, "offset": 17.3, "tickSize": 14}},
         "y": {"field": "lo", "type": "quantitative", "title": "Per cent recovered", "scale": {"domain": [75,100], "nice": false, "zero": false, "range": [534.5, 84.5]}, "axis": {"values": [75,80,85,90,95,100], "offset": 23, "tickSize": 13, "labelAngle": 270, "labelAlign": "center", "labelBaseline": "bottom", "labelPadding": 2, "titlePadding": 3, "labelOverlap": false}},
         "y2": {"field": "hi"}}},
      {"data": {"name": "curves_bottom"}, "transform": [{"filter": "datum.series == 'working capacity'"}],
       "mark": {"type": "area", "color": "#f7922b", "opacity": 0.2, "interpolate": "monotone"},
       "encoding": {
         "x": {"field": "bmi", "type": "quantitative", "title": null},
         "y": {"field": "lo", "type": "quantitative", "title": "Per cent recovered"},
         "y2": {"field": "hi"}}},
      {"data": {"name": "curves_bottom"},
       "mark": {"type": "line", "strokeWidth": 4.2, "interpolate": "monotone"},
       "encoding": {
         "x": {"field": "bmi", "type": "quantitative", "title": null},
         "y": {"field": "est", "type": "quantitative", "title": "Per cent recovered"},
         "stroke": {"field": "series", "type": "nominal", "scale": {"domain": ["general health","working capacity"], "range": ["#8f1a1f","#f7922b"]},
           "legend": {"orient": "none", "legendX": 444, "legendY": 74.5, "title": null, "symbolType": "M-1.6,0L1.6,0", "symbolSize": 256, "symbolStrokeWidth": 4.2, "labelFontSize": 12.8, "labelOffset": 12, "rowPadding": 0, "padding": 0, "labelColor": "#000", "labelFont": "Liberation Sans", "labelLimit": 300}}}},
      {"data": {"name": "ci_bottom"}, "transform": [{"filter": "datum.series == 'working capacity'"}],
       "mark": {"type": "rule", "strokeWidth": 2},
       "encoding": {
         "x": {"field": "est", "type": "quantitative", "title": null},
         "y": {"datum": 88.0, "type": "quantitative", "title": "Per cent recovered"},
         "y2": {"datum": 74},
         "color": {"field": "series", "type": "nominal", "scale": {"domain": ["general health","working capacity"], "range": ["#8f1a1f","#f7922b"]}, "legend": null}}},
      {"data": {"name": "ci_bottom"}, "transform": [{"filter": "datum.series == 'general health'"}],
       "mark": {"type": "rule", "strokeWidth": 2, "strokeDash": [8,6]},
       "encoding": {
         "x": {"field": "est", "type": "quantitative", "title": null},
         "y": {"datum": 88.0, "type": "quantitative", "title": "Per cent recovered"},
         "y2": {"datum": 74},
         "color": {"field": "series", "type": "nominal", "legend": null}}},
      {"data": {"name": "ci_bottom"},
       "mark": {"type": "rule", "strokeWidth": 2},
       "encoding": {
         "x": {"field": "lo", "type": "quantitative", "title": null},
         "x2": {"field": "hi"},
         "y": {"field": "ypos", "type": "quantitative", "title": "Per cent recovered"},
         "color": {"field": "series", "type": "nominal", "legend": null}}},
      {"data": {"name": "ci_bottom"},
       "mark": {"type": "tick", "orient": "vertical", "size": 22, "thickness": 2},
       "encoding": {
         "x": {"field": "cap_lo", "type": "quantitative", "title": null},
         "y": {"field": "ypos", "type": "quantitative", "title": "Per cent recovered"},
         "color": {"field": "series", "type": "nominal", "legend": null}}},
      {"data": {"name": "ci_bottom"},
       "mark": {"type": "tick", "orient": "vertical", "size": 22, "thickness": 2},
       "encoding": {
         "x": {"field": "hi", "type": "quantitative", "title": null},
         "y": {"field": "ypos", "type": "quantitative", "title": "Per cent recovered"},
         "color": {"field": "series", "type": "nominal", "legend": null}}},
      {"data": {"name": "ci_bottom"},
       "mark": {"type": "point", "shape": "diamond", "filled": true, "size": 100, "opacity": 1},
       "encoding": {
         "x": {"field": "est", "type": "quantitative", "title": null},
         "y": {"field": "ypos", "type": "quantitative", "title": "Per cent recovered"},
         "color": {"field": "series", "type": "nominal", "legend": null}}},
      {"data": {"name": "ci_bottom"},
       "mark": {"type": "text", "fontSize": 13.1, "align": "center", "baseline": "middle", "dy": -1.5},
       "encoding": {
         "x": {"datum": 33.15, "type": "quantitative", "title": null},
         "y": {"field": "ypos", "type": "quantitative", "title": "Per cent recovered"},
         "text": {"field": "label"},
         "color": {"field": "series", "type": "nominal", "legend": null}}}
    ]
  },
  {
    "width": 560, "height": 132.3,
    "resolve": {"scale": {"y": "independent"}, "axis": {"y": "independent"}},
    "layer": [
      {"layer": [
      {"data": {"name": "dens_bottom"},
       "mark": {"type": "area", "interpolate": "monotone", "opacity": 1, "fill": {"gradient": "linear", "x1": 0, "y1": 0, "x2": 1.1386, "y2": 0.1964, "stops": [
{"offset":0,"color":"#e8cdcf"},{"offset":0.004,"color":"#fff"},{"offset":0.008,"color":"#e8cdcf"},{"offset":0.012,"color":"#fff"},{"offset":0.016,"color":"#e8cdcf"},{"offset":0.02,"color":"#fff"},{"offset":0.024,"color":"#e8cdcf"},{"offset":0.028,"color":"#fff"},{"offset":0.032,"color":"#e8cdcf"},{"offset":0.036,"color":"#fff"},
{"offset":0.04,"color":"#e8cdcf"},{"offset":0.044,"color":"#fff"},{"offset":0.048,"color":"#e8cdcf"},{"offset":0.052,"color":"#fff"},{"offset":0.056,"color":"#e8cdcf"},{"offset":0.06,"color":"#fff"},{"offset":0.064,"color":"#e8cdcf"},{"offset":0.068,"color":"#fff"},{"offset":0.072,"color":"#e8cdcf"},{"offset":0.076,"color":"#fff"},
{"offset":0.08,"color":"#e8cdcf"},{"offset":0.084,"color":"#fff"},{"offset":0.088,"color":"#e8cdcf"},{"offset":0.092,"color":"#fff"},{"offset":0.096,"color":"#e8cdcf"},{"offset":0.1,"color":"#fff"},{"offset":0.104,"color":"#e8cdcf"},{"offset":0.108,"color":"#fff"},{"offset":0.112,"color":"#e8cdcf"},{"offset":0.116,"color":"#fff"},
{"offset":0.12,"color":"#e8cdcf"},{"offset":0.124,"color":"#fff"},{"offset":0.128,"color":"#e8cdcf"},{"offset":0.132,"color":"#fff"},{"offset":0.136,"color":"#e8cdcf"},{"offset":0.14,"color":"#fff"},{"offset":0.144,"color":"#e8cdcf"},{"offset":0.148,"color":"#fff"},{"offset":0.152,"color":"#e8cdcf"},{"offset":0.156,"color":"#fff"},
{"offset":0.16,"color":"#e8cdcf"},{"offset":0.164,"color":"#fff"},{"offset":0.168,"color":"#e8cdcf"},{"offset":0.172,"color":"#fff"},{"offset":0.176,"color":"#e8cdcf"},{"offset":0.18,"color":"#fff"},{"offset":0.184,"color":"#e8cdcf"},{"offset":0.188,"color":"#fff"},{"offset":0.192,"color":"#e8cdcf"},{"offset":0.196,"color":"#fff"},
{"offset":0.2,"color":"#e8cdcf"},{"offset":0.204,"color":"#fff"},{"offset":0.208,"color":"#e8cdcf"},{"offset":0.212,"color":"#fff"},{"offset":0.216,"color":"#e8cdcf"},{"offset":0.22,"color":"#fff"},{"offset":0.224,"color":"#e8cdcf"},{"offset":0.228,"color":"#fff"},{"offset":0.232,"color":"#e8cdcf"},{"offset":0.236,"color":"#fff"},
{"offset":0.24,"color":"#e8cdcf"},{"offset":0.244,"color":"#fff"},{"offset":0.248,"color":"#e8cdcf"},{"offset":0.252,"color":"#fff"},{"offset":0.256,"color":"#e8cdcf"},{"offset":0.26,"color":"#fff"},{"offset":0.264,"color":"#e8cdcf"},{"offset":0.268,"color":"#fff"},{"offset":0.272,"color":"#e8cdcf"},{"offset":0.276,"color":"#fff"},
{"offset":0.28,"color":"#e8cdcf"},{"offset":0.284,"color":"#fff"},{"offset":0.288,"color":"#e8cdcf"},{"offset":0.292,"color":"#fff"},{"offset":0.296,"color":"#e8cdcf"},{"offset":0.3,"color":"#fff"},{"offset":0.304,"color":"#e8cdcf"},{"offset":0.308,"color":"#fff"},{"offset":0.312,"color":"#e8cdcf"},{"offset":0.316,"color":"#fff"},
{"offset":0.32,"color":"#e8cdcf"},{"offset":0.324,"color":"#fff"},{"offset":0.328,"color":"#e8cdcf"},{"offset":0.332,"color":"#fff"},{"offset":0.336,"color":"#e8cdcf"},{"offset":0.34,"color":"#fff"},{"offset":0.344,"color":"#e8cdcf"},{"offset":0.348,"color":"#fff"},{"offset":0.352,"color":"#e8cdcf"},{"offset":0.356,"color":"#fff"},
{"offset":0.36,"color":"#e8cdcf"},{"offset":0.364,"color":"#fff"},{"offset":0.368,"color":"#e8cdcf"},{"offset":0.372,"color":"#fff"},{"offset":0.376,"color":"#e8cdcf"},{"offset":0.38,"color":"#fff"},{"offset":0.384,"color":"#e8cdcf"},{"offset":0.388,"color":"#fff"},{"offset":0.392,"color":"#e8cdcf"},{"offset":0.396,"color":"#fff"},
{"offset":0.4,"color":"#e8cdcf"},{"offset":0.404,"color":"#fff"},{"offset":0.408,"color":"#e8cdcf"},{"offset":0.412,"color":"#fff"},{"offset":0.416,"color":"#e8cdcf"},{"offset":0.42,"color":"#fff"},{"offset":0.424,"color":"#e8cdcf"},{"offset":0.428,"color":"#fff"},{"offset":0.432,"color":"#e8cdcf"},{"offset":0.436,"color":"#fff"},
{"offset":0.44,"color":"#e8cdcf"},{"offset":0.444,"color":"#fff"},{"offset":0.448,"color":"#e8cdcf"},{"offset":0.452,"color":"#fff"},{"offset":0.456,"color":"#e8cdcf"},{"offset":0.46,"color":"#fff"},{"offset":0.464,"color":"#e8cdcf"},{"offset":0.468,"color":"#fff"},{"offset":0.472,"color":"#e8cdcf"},{"offset":0.476,"color":"#fff"},
{"offset":0.48,"color":"#e8cdcf"},{"offset":0.484,"color":"#fff"},{"offset":0.488,"color":"#e8cdcf"},{"offset":0.492,"color":"#fff"},{"offset":0.496,"color":"#e8cdcf"},{"offset":0.5,"color":"#fff"},{"offset":0.504,"color":"#e8cdcf"},{"offset":0.508,"color":"#fff"},{"offset":0.512,"color":"#e8cdcf"},{"offset":0.516,"color":"#fff"},
{"offset":0.52,"color":"#e8cdcf"},{"offset":0.524,"color":"#fff"},{"offset":0.528,"color":"#e8cdcf"},{"offset":0.532,"color":"#fff"},{"offset":0.536,"color":"#e8cdcf"},{"offset":0.54,"color":"#fff"},{"offset":0.544,"color":"#e8cdcf"},{"offset":0.548,"color":"#fff"},{"offset":0.552,"color":"#e8cdcf"},{"offset":0.556,"color":"#fff"},
{"offset":0.56,"color":"#e8cdcf"},{"offset":0.564,"color":"#fff"},{"offset":0.568,"color":"#e8cdcf"},{"offset":0.572,"color":"#fff"},{"offset":0.576,"color":"#e8cdcf"},{"offset":0.58,"color":"#fff"},{"offset":0.584,"color":"#e8cdcf"},{"offset":0.588,"color":"#fff"},{"offset":0.592,"color":"#e8cdcf"},{"offset":0.596,"color":"#fff"},
{"offset":0.6,"color":"#e8cdcf"},{"offset":0.604,"color":"#fff"},{"offset":0.608,"color":"#e8cdcf"},{"offset":0.612,"color":"#fff"},{"offset":0.616,"color":"#e8cdcf"},{"offset":0.62,"color":"#fff"},{"offset":0.624,"color":"#e8cdcf"},{"offset":0.628,"color":"#fff"},{"offset":0.632,"color":"#e8cdcf"},{"offset":0.636,"color":"#fff"},
{"offset":0.64,"color":"#e8cdcf"},{"offset":0.644,"color":"#fff"},{"offset":0.648,"color":"#e8cdcf"},{"offset":0.652,"color":"#fff"},{"offset":0.656,"color":"#e8cdcf"},{"offset":0.66,"color":"#fff"},{"offset":0.664,"color":"#e8cdcf"},{"offset":0.668,"color":"#fff"},{"offset":0.672,"color":"#e8cdcf"},{"offset":0.676,"color":"#fff"},
{"offset":0.68,"color":"#e8cdcf"},{"offset":0.684,"color":"#fff"},{"offset":0.688,"color":"#e8cdcf"},{"offset":0.692,"color":"#fff"},{"offset":0.696,"color":"#e8cdcf"},{"offset":0.7,"color":"#fff"},{"offset":0.704,"color":"#e8cdcf"},{"offset":0.708,"color":"#fff"},{"offset":0.712,"color":"#e8cdcf"},{"offset":0.716,"color":"#fff"},
{"offset":0.72,"color":"#e8cdcf"},{"offset":0.724,"color":"#fff"},{"offset":0.728,"color":"#e8cdcf"},{"offset":0.732,"color":"#fff"},{"offset":0.736,"color":"#e8cdcf"},{"offset":0.74,"color":"#fff"},{"offset":0.744,"color":"#e8cdcf"},{"offset":0.748,"color":"#fff"},{"offset":0.752,"color":"#e8cdcf"},{"offset":0.756,"color":"#fff"},
{"offset":0.76,"color":"#e8cdcf"},{"offset":0.764,"color":"#fff"},{"offset":0.768,"color":"#e8cdcf"},{"offset":0.772,"color":"#fff"},{"offset":0.776,"color":"#e8cdcf"},{"offset":0.78,"color":"#fff"},{"offset":0.784,"color":"#e8cdcf"},{"offset":0.788,"color":"#fff"},{"offset":0.792,"color":"#e8cdcf"},{"offset":0.796,"color":"#fff"},
{"offset":0.8,"color":"#e8cdcf"},{"offset":0.804,"color":"#fff"},{"offset":0.808,"color":"#e8cdcf"},{"offset":0.812,"color":"#fff"},{"offset":0.816,"color":"#e8cdcf"},{"offset":0.82,"color":"#fff"},{"offset":0.824,"color":"#e8cdcf"},{"offset":0.828,"color":"#fff"},{"offset":0.832,"color":"#e8cdcf"},{"offset":0.836,"color":"#fff"},
{"offset":0.84,"color":"#e8cdcf"},{"offset":0.844,"color":"#fff"},{"offset":0.848,"color":"#e8cdcf"},{"offset":0.852,"color":"#fff"},{"offset":0.856,"color":"#e8cdcf"},{"offset":0.86,"color":"#fff"},{"offset":0.864,"color":"#e8cdcf"},{"offset":0.868,"color":"#fff"},{"offset":0.872,"color":"#e8cdcf"},{"offset":0.876,"color":"#fff"},
{"offset":0.88,"color":"#e8cdcf"},{"offset":0.884,"color":"#fff"},{"offset":0.888,"color":"#e8cdcf"},{"offset":0.892,"color":"#fff"},{"offset":0.896,"color":"#e8cdcf"},{"offset":0.9,"color":"#fff"},{"offset":0.904,"color":"#e8cdcf"},{"offset":0.908,"color":"#fff"},{"offset":0.912,"color":"#e8cdcf"},{"offset":0.916,"color":"#fff"},
{"offset":0.92,"color":"#e8cdcf"},{"offset":0.924,"color":"#fff"},{"offset":0.928,"color":"#e8cdcf"},{"offset":0.932,"color":"#fff"},{"offset":0.936,"color":"#e8cdcf"},{"offset":0.94,"color":"#fff"},{"offset":0.944,"color":"#e8cdcf"},{"offset":0.948,"color":"#fff"},{"offset":0.952,"color":"#e8cdcf"},{"offset":0.956,"color":"#fff"},
{"offset":0.96,"color":"#e8cdcf"},{"offset":0.964,"color":"#fff"},{"offset":0.968,"color":"#e8cdcf"},{"offset":0.972,"color":"#fff"},{"offset":0.976,"color":"#e8cdcf"},{"offset":0.98,"color":"#fff"},{"offset":0.984,"color":"#e8cdcf"},{"offset":0.988,"color":"#fff"},{"offset":0.992,"color":"#e8cdcf"},{"offset":0.996,"color":"#fff"},{"offset":1,"color":"#e8cdcf"}
       ]}},
       "encoding": {
         "x": {"field": "bmi", "type": "quantitative", "title": "Body mass index (kg/m²)", "scale": {"domain": [15,45], "nice": false, "zero": false}, "axis": {"values": [15,20,25,30,35,40,45], "offset": 4.4, "tickSize": 13, "labelPadding": 10, "titlePadding": 5, "labelOverlap": false}},
         "y": {"field": "d", "type": "quantitative", "title": null, "scale": {"domain": [0,0.1], "nice": false, "zero": false, "range": [132.3, 37.3]}, "axis": {"values": [0,0.02,0.04,0.06,0.08,0.1], "labels": false, "offset": 23, "tickSize": 13}}}},
      {"data": {"name": "dens_bottom"}, "transform": [{"filter": {"field": "bmi", "range": [20.3, 23.1]}}],
       "mark": {"type": "area", "color": "#e9d1d2", "opacity": 1, "interpolate": "monotone"},
       "encoding": {
         "x": {"field": "bmi", "type": "quantitative", "title": "Body mass index (kg/m²)"},
         "y": {"field": "d", "type": "quantitative", "title": null}}},
      {"mark": {"type": "rule", "color": "#e3e3e3", "strokeWidth": 1},
       "encoding": {
         "x": {"datum": 13.8, "type": "quantitative", "title": "Body mass index (kg/m²)"},
         "x2": {"datum": 46.2},
         "y": {"datum": 0, "type": "quantitative", "title": null}}},
      {"data": {"name": "dens_bottom"},
       "mark": {"type": "line", "color": "#8f1a1f", "strokeWidth": 2.6, "interpolate": "monotone"},
       "encoding": {
         "x": {"field": "bmi", "type": "quantitative", "title": "Body mass index (kg/m²)"},
         "y": {"field": "d", "type": "quantitative", "title": null}}},
      {"data": {"name": "ci_bottom"}, "transform": [{"filter": "datum.series == 'working capacity'"}],
       "mark": {"type": "rule", "strokeWidth": 2},
       "encoding": {
         "x": {"field": "est", "type": "quantitative", "title": "Body mass index (kg/m²)"},
         "y": {"datum": -0.0041, "type": "quantitative", "title": null},
         "y2": {"datum": 0.1058},
         "color": {"field": "series", "type": "nominal", "scale": {"domain": ["general health","working capacity"], "range": ["#8f1a1f","#f7922b"]}, "legend": null}}},
      {"data": {"name": "ci_bottom"}, "transform": [{"filter": "datum.series == 'general health'"}],
       "mark": {"type": "rule", "strokeWidth": 2, "strokeDash": [8,6]},
       "encoding": {
         "x": {"field": "est", "type": "quantitative", "title": "Body mass index (kg/m²)"},
         "y": {"datum": -0.0041, "type": "quantitative", "title": null},
         "y2": {"datum": 0.1058},
         "color": {"field": "series", "type": "nominal", "legend": null}}},
      {"data": {"name": "pct_bottom"},
       "mark": {"type": "text", "fontSize": 13.1, "align": "center", "baseline": "middle", "color": "#8f1a1f"},
       "encoding": {
         "x": {"field": "bmi", "type": "quantitative", "title": "Body mass index (kg/m²)"},
         "y": {"field": "d", "type": "quantitative", "title": null},
         "text": {"field": "label"}}}
      ]},
      {"data": {"name": "pct_bottom"},
       "mark": {"type": "point", "opacity": 0},
       "encoding": {
         "x": {"field": "bmi", "type": "quantitative", "title": "Body mass index (kg/m²)"},
         "y": {"field": "d", "type": "quantitative", "title": "Density", "scale": {"domain": [0,0.1], "nice": false, "zero": false, "range": [132.3, 37.3]}, "axis": {"orient": "left", "values": [0, 0.06], "format": ".2f", "domain": false, "tickOpacity": 0, "offset": 23, "tickSize": 13, "labelAngle": 270, "labelAlign": "center", "labelBaseline": "bottom", "labelPadding": 2, "titlePadding": 3, "labelOverlap": false}}}}
    ]
  }
]
}
